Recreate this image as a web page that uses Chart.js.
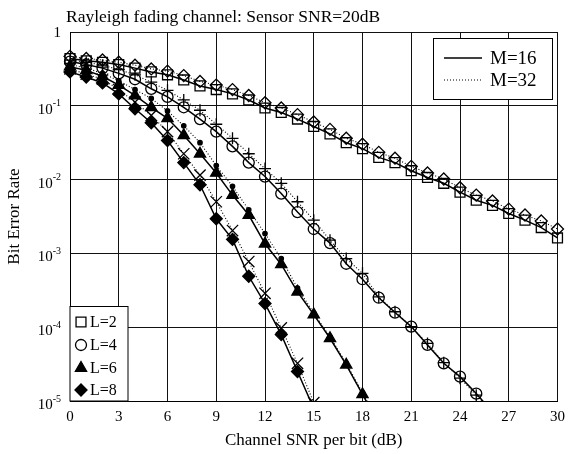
<!DOCTYPE html>
<html>
<head>
<meta charset="utf-8">
<script src="https://cdn.jsdelivr.net/npm/chart.js@4.4.1/dist/chart.umd.min.js"></script>
<style>
  html, body { margin: 0; padding: 0; background: #fff; }
  #wrap { width: 572px; height: 454px; }
</style>
</head>
<body>
<div id="wrap"><canvas id="grafica" width="572" height="454"></canvas></div>
<script>
// Eje x: SNR del canal por bit (dB)
const snrDb = [0, 1, 2, 3, 4, 5, 6, 7, 8, 9, 10, 11, 12, 13, 14, 15, 16, 17, 18, 19, 20,
  21, 22, 23, 24, 25, 26, 27, 28, 29, 30];

// Exponentes de las marcas del eje y (10^e)
const yTickExp = [0, -1, -2, -3, -4, -5];
const xTicks = [0, 3, 6, 9, 12, 15, 18, 21, 24, 27, 30];

// BER, M=16 (linea continua)
const berL2M16 = [0.437, 0.407, 0.389, 0.363, 0.324, 0.288, 0.263, 0.224, 0.186, 0.166, 0.145,
  0.120, 0.0933, 0.0813, 0.0661, 0.0525, 0.0417, 0.0316, 0.0263, 0.0200, 0.0170,
  0.0132, 0.0107, 0.00891, 0.00676, 0.00525, 0.00447, 0.00347, 0.00282, 0.00224, 0.00162];
const berL4M16 = [0.398, 0.363, 0.324, 0.275, 0.229, 0.170, 0.132, 0.0955, 0.0661, 0.0447, 0.0282,
  0.0170, 0.0110, 0.00646, 0.00363, 0.00214, 0.00138, 7.24e-4, 4.47e-4, 2.51e-4, 1.58e-4,
  1.02e-4, 5.75e-5, 3.24e-5, 2.14e-5, 1.26e-5, 7.1e-6];
const berL6M16 = [0.339, 0.302, 0.251, 0.191, 0.138, 0.0955, 0.0676, 0.0398, 0.0224, 0.0123, 0.00617,
  0.00331, 0.00135, 7.08e-4, 3.02e-4, 1.48e-4, 7.08e-5, 3.09e-5, 1.23e-5, 4.9e-6];
const berL8M16 = [0.288, 0.245, 0.204, 0.145, 0.0912, 0.0589, 0.0339, 0.0170, 0.00851, 0.00295, 0.00155,
  4.90e-4, 2.09e-4, 7.94e-5, 2.51e-5, 7.9e-6];

// M=32 (linea punteada)
const berL2M32 = [0.468, 0.437, 0.417, 0.389, 0.355, 0.316, 0.295, 0.257, 0.214, 0.191, 0.166,
  0.138, 0.110, 0.0933, 0.0759, 0.0603, 0.0479, 0.0363, 0.0302, 0.0234, 0.0195,
  0.0151, 0.0123, 0.0102, 0.00776, 0.00617, 0.00513, 0.00398, 0.00331, 0.00275, 0.00214];
const berL4M32 = [0.417, 0.389, 0.355, 0.309, 0.263, 0.209, 0.162, 0.120, 0.0871, 0.0562, 0.0363,
  0.0224, 0.0141, 0.00891, 0.00501, 0.00282, 0.00151, 8.51e-4, 5.37e-4, 2.57e-4, 1.62e-4,
  1.02e-4, 6.03e-5, 3.31e-5, 2.04e-5, 1.20e-5, 6.8e-6];
const berL6M32 = [0.363, 0.324, 0.275, 0.219, 0.166, 0.126, 0.0851, 0.0537, 0.0316, 0.0155, 0.00813,
  0.00389, 0.00186, 8.51e-4, 3.39e-4, 1.55e-4, 7.41e-5, 3.24e-5, 1.29e-5, 5.1e-6];
const berL8M32 = [0.316, 0.269, 0.229, 0.166, 0.112, 0.0741, 0.0447, 0.0224, 0.0115, 0.00501, 0.00204,
  7.76e-4, 2.88e-4, 9.77e-5, 3.24e-5, 9.5e-6];

const titulo = 'Rayleigh fading channel: Sensor SNR=20dB';
const leyendaL = ['L=2', 'L=4', 'L=6', 'L=8'];
const leyendaM = ['M=16', 'M=32'];

const fuente = '"Liberation Serif", "Times New Roman", serif';
const negro = '#000';
const hueco = 'rgba(0,0,0,0)';

// Estilos de marcador por serie
const marcadores = {
  l2m16: { pointStyle: 'rect', radius: 7, fill: hueco },
  l4m16: { pointStyle: 'circle', radius: 5.5, fill: hueco },
  l6m16: { pointStyle: 'triangle', radius: 6.5, fill: negro },
  l8m16: { pointStyle: 'rectRot', radius: 6, fill: negro },
  l2m32: { pointStyle: 'rectRot', radius: 6, fill: hueco },
  l4m32: { pointStyle: 'cross', radius: 6, fill: hueco },
  l6m32: { pointStyle: 'circle', radius: 2.2, fill: negro },
  l8m32: { pointStyle: 'crossRot', radius: 8, fill: hueco }
};

function serie(label, valores, m, punteada) {
  return {
    label: label,
    data: valores.map((v, i) => ({ x: snrDb[i], y: v })),
    borderColor: negro,
    borderWidth: punteada ? 1.1 : 1.5,
    borderDash: punteada ? [1, 2] : [],
    pointStyle: m.pointStyle,
    pointRadius: m.radius,
    pointHoverRadius: m.radius,
    pointBackgroundColor: m.fill,
    pointBorderColor: negro,
    pointBorderWidth: 1.3,
    fill: false,
    tension: 0,
    clip: { left: 10, top: 10, right: 10, bottom: 0 }
  };
}

// Dibuja un marcador para la leyenda
function marcador(ctx, m, x, y) {
  ctx.save();
  ctx.fillStyle = m.fill;
  ctx.strokeStyle = negro;
  ctx.lineWidth = 1.3;
  Chart.helpers.drawPoint(ctx, { pointStyle: m.pointStyle, radius: m.radius, rotation: 0, borderWidth: 1.3 }, x, y);
  ctx.restore();
}

const decoracion = {
  id: 'decoracion',
  afterDraw(chart) {
    const ctx = chart.ctx;
    const ejeY = chart.scales.y;
    const area = chart.chartArea;
    ctx.save();
    ctx.fillStyle = negro;

    // Titulo
    ctx.font = '17.5px ' + fuente;
    ctx.textAlign = 'left';
    ctx.textBaseline = 'alphabetic';
    ctx.fillText(titulo, 66, 22);

    // Etiquetas del eje y con exponente
    const xDer = area.left - 9;
    yTickExp.forEach(e => {
      const py = ejeY.getPixelForValue(Math.pow(10, e));
      ctx.textBaseline = 'middle';
      if (e === 0) {
        ctx.font = '15px ' + fuente;
        ctx.textAlign = 'right';
        ctx.fillText('1', xDer, py + 1);
        return;
      }
      const exp = '-' + Math.abs(e);
      ctx.font = '10px ' + fuente;
      const wExp = ctx.measureText(exp).width;
      ctx.textAlign = 'left';
      ctx.fillText(exp, xDer - wExp, py - 2);
      ctx.font = '15px ' + fuente;
      ctx.textAlign = 'right';
      ctx.fillText('10', xDer - wExp, py + 4);
    });

    // Leyenda de M (arriba a la derecha)
    ctx.fillStyle = '#fff';
    ctx.fillRect(433.5, 38.5, 119, 61);
    ctx.strokeStyle = negro;
    ctx.lineWidth = 1;
    ctx.strokeRect(433.5, 38.5, 119, 61);
    [58, 80].forEach((py, i) => {
      ctx.beginPath();
      ctx.lineWidth = i === 0 ? 1.5 : 1.1;
      ctx.setLineDash(i === 0 ? [] : [1, 2]);
      ctx.moveTo(444, py);
      ctx.lineTo(482, py);
      ctx.stroke();
      ctx.setLineDash([]);
      ctx.fillStyle = negro;
      ctx.font = '19px ' + fuente;
      ctx.textAlign = 'left';
      ctx.textBaseline = 'middle';
      ctx.fillText(leyendaM[i], 490, py + 1);
    });

    // Leyenda de L (abajo a la izquierda)
    ctx.fillStyle = '#fff';
    ctx.fillRect(area.left, 306.5, 58, area.bottom - 306.5);
    ctx.lineWidth = 1;
    ctx.strokeRect(area.left, 306.5, 58, area.bottom - 306.5);
    const mL = [marcadores.l2m16, marcadores.l4m16, marcadores.l6m16, marcadores.l8m16];
    [322, 345, 368, 390].forEach((py, i) => {
      marcador(ctx, mL[i], area.left + 11, py);
      ctx.fillStyle = negro;
      ctx.font = '16px ' + fuente;
      ctx.textAlign = 'left';
      ctx.textBaseline = 'middle';
      ctx.fillText(leyendaL[i], area.left + 20, py + 1);
    });
    ctx.restore();
  }
};

const ctxGrafica = document.getElementById('grafica').getContext('2d');
new Chart(ctxGrafica, {
  type: 'line',
  data: {
    datasets: [
      serie('L=2, M=16', berL2M16, marcadores.l2m16, false),
      serie('L=4, M=16', berL4M16, marcadores.l4m16, false),
      serie('L=6, M=16', berL6M16, marcadores.l6m16, false),
      serie('L=8, M=16', berL8M16, marcadores.l8m16, false),
      serie('L=2, M=32', berL2M32, marcadores.l2m32, true),
      serie('L=4, M=32', berL4M32, marcadores.l4m32, true),
      serie('L=6, M=32', berL6M32, marcadores.l6m32, true),
      serie('L=8, M=32', berL8M32, marcadores.l8m32, true)
    ]
  },
  options: {
    responsive: false,
    animation: false,
    layout: { padding: { top: 32, right: 9, left: 0, bottom: 0 } },
    plugins: { legend: { display: false }, tooltip: { enabled: false }, title: { display: false } },
    scales: {
      x: {
        type: 'linear',
        min: 0,
        max: 30,
        afterBuildTicks: s => { s.ticks = xTicks.map(v => ({ value: v })); },
        ticks: { font: { family: fuente, size: 15 }, color: negro, padding: 7, maxRotation: 0 },
        grid: { color: '#111', lineWidth: 1, drawTicks: false },
        border: { color: negro, width: 1 },
        title: { display: true, text: 'Channel SNR per bit (dB)', color: negro,
          font: { family: fuente, size: 17 }, padding: { top: 0, bottom: 3 } },
        afterFit: s => { s.height = 53; }
      },
      y: {
        type: 'logarithmic',
        min: 1e-5,
        max: 1,
        afterBuildTicks: s => { s.ticks = yTickExp.map(e => ({ value: Math.pow(10, e) })); },
        ticks: { display: false },
        grid: { color: '#111', lineWidth: 1, drawTicks: false },
        border: { color: negro, width: 1 },
        title: { display: true, text: 'Bit Error Rate', color: negro,
          font: { family: fuente, size: 17 }, padding: { top: 4, bottom: 0 } },
        afterFit: s => { s.width = 70; }
      }
    }
  },
  plugins: [decoracion]
});
</script>
</body>
</html>
